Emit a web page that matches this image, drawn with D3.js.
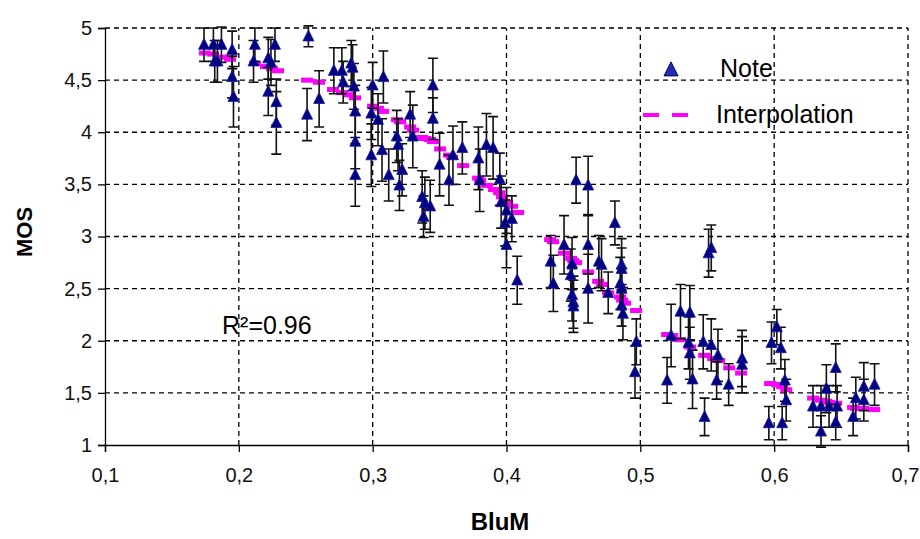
<!DOCTYPE html>
<html>
<head>
<meta charset="utf-8">
<script src="https://cdn.jsdelivr.net/npm/d3@7"></script>
<style>
	body { margin: 0; background: #fff; }
	svg { display: block; font-family: "Liberation Sans", Arial, sans-serif; }
</style>
</head>
<body>
<div id="chart"></div>
<script>
// Measured points (BluM, MOS, half-width of the error bar)
var noteX = [0.174, 0.181, 0.182, 0.187, 0.184, 0.195, 0.195, 0.196, 0.212, 0.211,
	0.222, 0.224, 0.227, 0.222, 0.228, 0.228, 0.252, 0.251, 0.260, 0.271,
	0.277, 0.278, 0.284, 0.285, 0.286, 0.287, 0.287, 0.287, 0.300, 0.308,
	0.299, 0.304, 0.299, 0.307, 0.312, 0.318, 0.319, 0.322, 0.320, 0.328,
	0.330, 0.337, 0.339, 0.343, 0.338, 0.345, 0.345, 0.350, 0.357, 0.360,
	0.367, 0.379, 0.380, 0.385, 0.390, 0.395, 0.396, 0.400, 0.399, 0.404,
	0.400, 0.408, 0.433, 0.435, 0.443, 0.449, 0.448, 0.449, 0.450, 0.450,
	0.452, 0.461, 0.461, 0.461, 0.469, 0.471, 0.476, 0.485, 0.486, 0.486,
	0.486, 0.486, 0.487, 0.481, 0.497, 0.496, 0.520, 0.523, 0.530, 0.537,
	0.536, 0.537, 0.539, 0.547, 0.548, 0.553, 0.558, 0.557, 0.566, 0.576,
	0.576, 0.551, 0.553, 0.602, 0.598, 0.605, 0.608, 0.609, 0.596, 0.606,
	0.629, 0.635, 0.635, 0.639, 0.641, 0.646, 0.646, 0.647, 0.659, 0.661,
	0.667, 0.667, 0.675];
var noteY = [4.84, 4.84, 4.68, 4.84, 4.68, 4.79, 4.53, 4.34, 4.84, 4.68,
	4.71, 4.67, 4.84, 4.39, 4.29, 4.09, 4.92, 4.17, 4.32, 4.59,
	4.59, 4.48, 4.66, 4.62, 4.44, 4.20, 3.91, 3.59, 4.45, 4.53,
	4.18, 4.12, 3.78, 3.83, 3.59, 3.96, 3.88, 3.64, 3.49, 4.17,
	3.96, 3.38, 3.32, 3.29, 3.19, 4.45, 4.13, 3.69, 3.54, 3.78,
	3.85, 3.75, 3.54, 3.88, 3.85, 3.55, 3.33, 3.25, 3.13, 3.17,
	2.92, 2.58, 2.76, 2.55, 2.92, 2.74, 2.63, 2.44, 2.37, 2.33,
	3.54, 3.49, 2.92, 2.50, 2.76, 2.73, 2.46, 2.55, 2.73, 2.69,
	2.50, 2.34, 2.26, 3.13, 1.99, 1.70, 1.62, 2.05, 2.28, 2.27,
	1.98, 1.88, 1.63, 1.99, 1.27, 1.96, 1.86, 1.62, 1.58, 1.83,
	1.77, 2.84, 2.89, 2.13, 1.98, 1.93, 1.62, 1.43, 1.21, 1.21,
	1.37, 1.37, 1.13, 1.54, 1.37, 1.74, 1.22, 1.37, 1.27, 1.45,
	1.56, 1.43, 1.58];
var noteErr = [0.16, 0.16, 0.2, 0.17, 0.2, 0.18, 0.2, 0.29, 0.16, 0.2,
	0.2, 0.22, 0.16, 0.23, 0.22, 0.3, 0.1, 0.25, 0.27, 0.22,
	0.22, 0.2, 0.22, 0.22, 0.22, 0.25, 0.26, 0.3, 0.22, 0.25,
	0.25, 0.25, 0.3, 0.3, 0.25, 0.25, 0.25, 0.25, 0.24, 0.22,
	0.3, 0.25, 0.25, 0.25, 0.2, 0.26, 0.2, 0.3, 0.24, 0.28,
	0.25, 0.3, 0.3, 0.3, 0.3, 0.25, 0.25, 0.22, 0.22, 0.22,
	0.22, 0.23, 0.25, 0.27, 0.28, 0.25, 0.25, 0.25, 0.25, 0.25,
	0.22, 0.28, 0.28, 0.33, 0.25, 0.25, 0.2, 0.25, 0.25, 0.2,
	0.2, 0.2, 0.25, 0.21, 0.22, 0.25, 0.22, 0.3, 0.26, 0.26,
	0.25, 0.25, 0.28, 0.26, 0.18, 0.25, 0.25, 0.18, 0.2, 0.27,
	0.27, 0.23, 0.22, 0.17, 0.2, 0.2, 0.2, 0.2, 0.16, 0.16,
	0.2, 0.2, 0.15, 0.23, 0.2, 0.23, 0.17, 0.2, 0.18, 0.2,
	0.23, 0.2, 0.2];

// Interpolation dashes (BluM, fitted MOS)
var fitX = [0.1747, 0.1807, 0.1874, 0.1934, 0.2121, 0.2203, 0.2248, 0.2293, 0.2510, 0.2599,
	0.2704, 0.2771, 0.2824, 0.2868, 0.3003, 0.3040, 0.3078, 0.3182, 0.3205, 0.3280,
	0.3302, 0.3369, 0.3392, 0.3429, 0.3451, 0.3504, 0.3571, 0.3593, 0.3676, 0.3788,
	0.3803, 0.3855, 0.3907, 0.3945, 0.3967, 0.4004, 0.4042, 0.4087, 0.4326, 0.4348,
	0.4430, 0.4483, 0.4498, 0.4520, 0.4610, 0.4685, 0.4714, 0.4759, 0.4849, 0.4864,
	0.4886, 0.4968, 0.5200, 0.5238, 0.5297, 0.5372, 0.5477, 0.5544, 0.5589, 0.5664,
	0.5753, 0.5970, 0.6022, 0.6060, 0.6090, 0.6291, 0.6344, 0.6388, 0.6411, 0.6463,
	0.6590, 0.6613, 0.6665, 0.6747];
var fitY = [4.76, 4.75, 4.72, 4.70, 4.66, 4.63, 4.61, 4.59, 4.50, 4.48,
	4.41, 4.38, 4.36, 4.33, 4.25, 4.23, 4.20, 4.12, 4.10, 4.05,
	4.02, 3.95, 3.94, 3.93, 3.91, 3.84, 3.78, 3.76, 3.68, 3.56,
	3.54, 3.49, 3.45, 3.42, 3.38, 3.33, 3.29, 3.23, 2.97, 2.95,
	2.84, 2.79, 2.77, 2.75, 2.66, 2.57, 2.54, 2.46, 2.42, 2.39,
	2.36, 2.29, 2.06, 2.05, 2.01, 1.94, 1.86, 1.83, 1.81, 1.74,
	1.69, 1.59, 1.58, 1.56, 1.53, 1.45, 1.43, 1.42, 1.41, 1.40,
	1.36, 1.35, 1.35, 1.34];

var xTicks = [0.1, 0.2, 0.3, 0.4, 0.5, 0.6, 0.7];
var yTicks = [1, 1.5, 2, 2.5, 3, 3.5, 4, 4.5, 5];
var legendLabels = ["Note", "Interpolation"];
var r2Label = "R²=0.96";

var width = 920, height = 539,
		margin = {top: 28, right: 12, bottom: 94, left: 105};

var fr = d3.formatLocale({decimal: ",", thousands: " ", grouping: [3], currency: ["", ""]});
var fmt = fr.format("~g");

var x = d3.scaleLinear().domain([0.1, 0.7]).range([margin.left, width - margin.right]);
var y = d3.scaleLinear().domain([1, 5]).range([height - margin.bottom, margin.top]);

var svg = d3.select("#chart").append("svg")
		.attr("width", width)
		.attr("height", height);

// Grid
svg.append("g").selectAll("line")
	.data(yTicks.slice(1))
	.enter().append("line")
		.attr("x1", x.range()[0]).attr("x2", x.range()[1])
		.attr("y1", function(d) { return y(d); })
		.attr("y2", function(d) { return y(d); })
		.attr("stroke", "#000").attr("stroke-width", 1.3)
		.attr("stroke-dasharray", "5,4");

svg.append("g").selectAll("line")
	.data(xTicks.slice(1))
	.enter().append("line")
		.attr("y1", y.range()[0]).attr("y2", y.range()[1])
		.attr("x1", function(d) { return x(d); })
		.attr("x2", function(d) { return x(d); })
		.attr("stroke", "#000").attr("stroke-width", 1.3)
		.attr("stroke-dasharray", "5,4");

// Axes
var xAxis = svg.append("g")
		.attr("transform", "translate(0," + y(1) + ")")
		.call(d3.axisBottom(x).tickValues(xTicks).tickFormat(fmt).tickSize(7).tickPadding(16));
var yAxis = svg.append("g")
		.attr("transform", "translate(" + x(0.1) + ",0)")
		.call(d3.axisLeft(y).tickValues(yTicks).tickFormat(fmt).tickSize(7).tickPadding(6));

[xAxis, yAxis].forEach(function(a) {
	a.select(".domain").attr("stroke", "#000").attr("stroke-width", 1.3);
	a.selectAll(".tick line").attr("stroke", "#000").attr("stroke-width", 1.3);
	a.selectAll("text")
		.attr("fill", "#111")
		.style("font-size", "20px")
		.style("font-family", "'Liberation Sans', Arial, sans-serif");
});
// last label sits against the right edge
xAxis.selectAll(".tick text")
	.filter(function(d) { return d === 0.7; })
	.attr("dx", -3);

// Interpolation dashes
svg.append("g").selectAll("rect")
	.data(fitX.map(function(d, i) { return [d, fitY[i]]; }))
	.enter().append("rect")
		.attr("x", function(d) { return x(d[0]) - 6; })
		.attr("y", function(d) { return y(d[1]) - 2.5; })
		.attr("width", 12)
		.attr("height", 5)
		.attr("fill", "#ff00ff");

var pts = noteX.map(function(d, i) { return {x: d, y: noteY[i], e: noteErr[i]}; });

// Error bars
var bars = svg.append("g")
		.attr("stroke", "#111")
		.attr("stroke-width", 1.6)
		.attr("fill", "none");

bars.selectAll("path")
	.data(pts)
	.enter().append("path")
		.attr("d", function(d) {
			var cx = x(d.x), t = y(d.y + d.e), b = y(d.y - d.e);
			return "M" + cx + "," + t + "V" + b +
				"M" + (cx - 5) + "," + t + "H" + (cx + 5) +
				"M" + (cx - 5) + "," + b + "H" + (cx + 5);
		});

// Triangles
function tri(cx, cy, w, h) {
	return "M" + cx + "," + (cy - h * 0.58) +
		"L" + (cx + w / 2) + "," + (cy + h * 0.42) +
		"L" + (cx - w / 2) + "," + (cy + h * 0.42) + "Z";
}

svg.append("g").selectAll("path")
	.data(pts)
	.enter().append("path")
		.attr("d", function(d) { return tri(x(d.x), y(d.y), 11, 11); })
		.attr("fill", "#000080")
		.attr("stroke", "#1a1aa0")
		.attr("stroke-width", 0.8);

// Axis titles
svg.append("text")
	.attr("x", 500).attr("y", 530)
	.attr("text-anchor", "middle")
	.style("font-size", "24px").style("font-weight", "bold")
	.text("BluM");

svg.append("text")
	.attr("transform", "translate(32,232) rotate(-90)")
	.attr("text-anchor", "middle")
	.style("font-size", "22px").style("font-weight", "bold")
	.text("MOS");

svg.append("text")
	.attr("x", 222).attr("y", 334)
	.style("font-size", "25px")
	.text(r2Label);

// Legend
var legend = svg.append("g");
legend.append("path")
	.attr("d", tri(671, 70, 14, 14))
	.attr("fill", "#2828b0")
	.attr("stroke", "#000060")
	.attr("stroke-width", 1);
legend.append("rect").attr("x", 643).attr("y", 113).attr("width", 16).attr("height", 4).attr("fill", "#ff00ff");
legend.append("rect").attr("x", 672).attr("y", 113).attr("width", 16).attr("height", 4).attr("fill", "#ff00ff");
legend.selectAll("text")
	.data(legendLabels)
	.enter().append("text")
		.attr("x", function(d, i) { return i ? 716 : 720; })
		.attr("y", function(d, i) { return i ? 123 : 77; })
		.style("font-size", "25px")
		.text(function(d) { return d; });
</script>
</body>
</html>
